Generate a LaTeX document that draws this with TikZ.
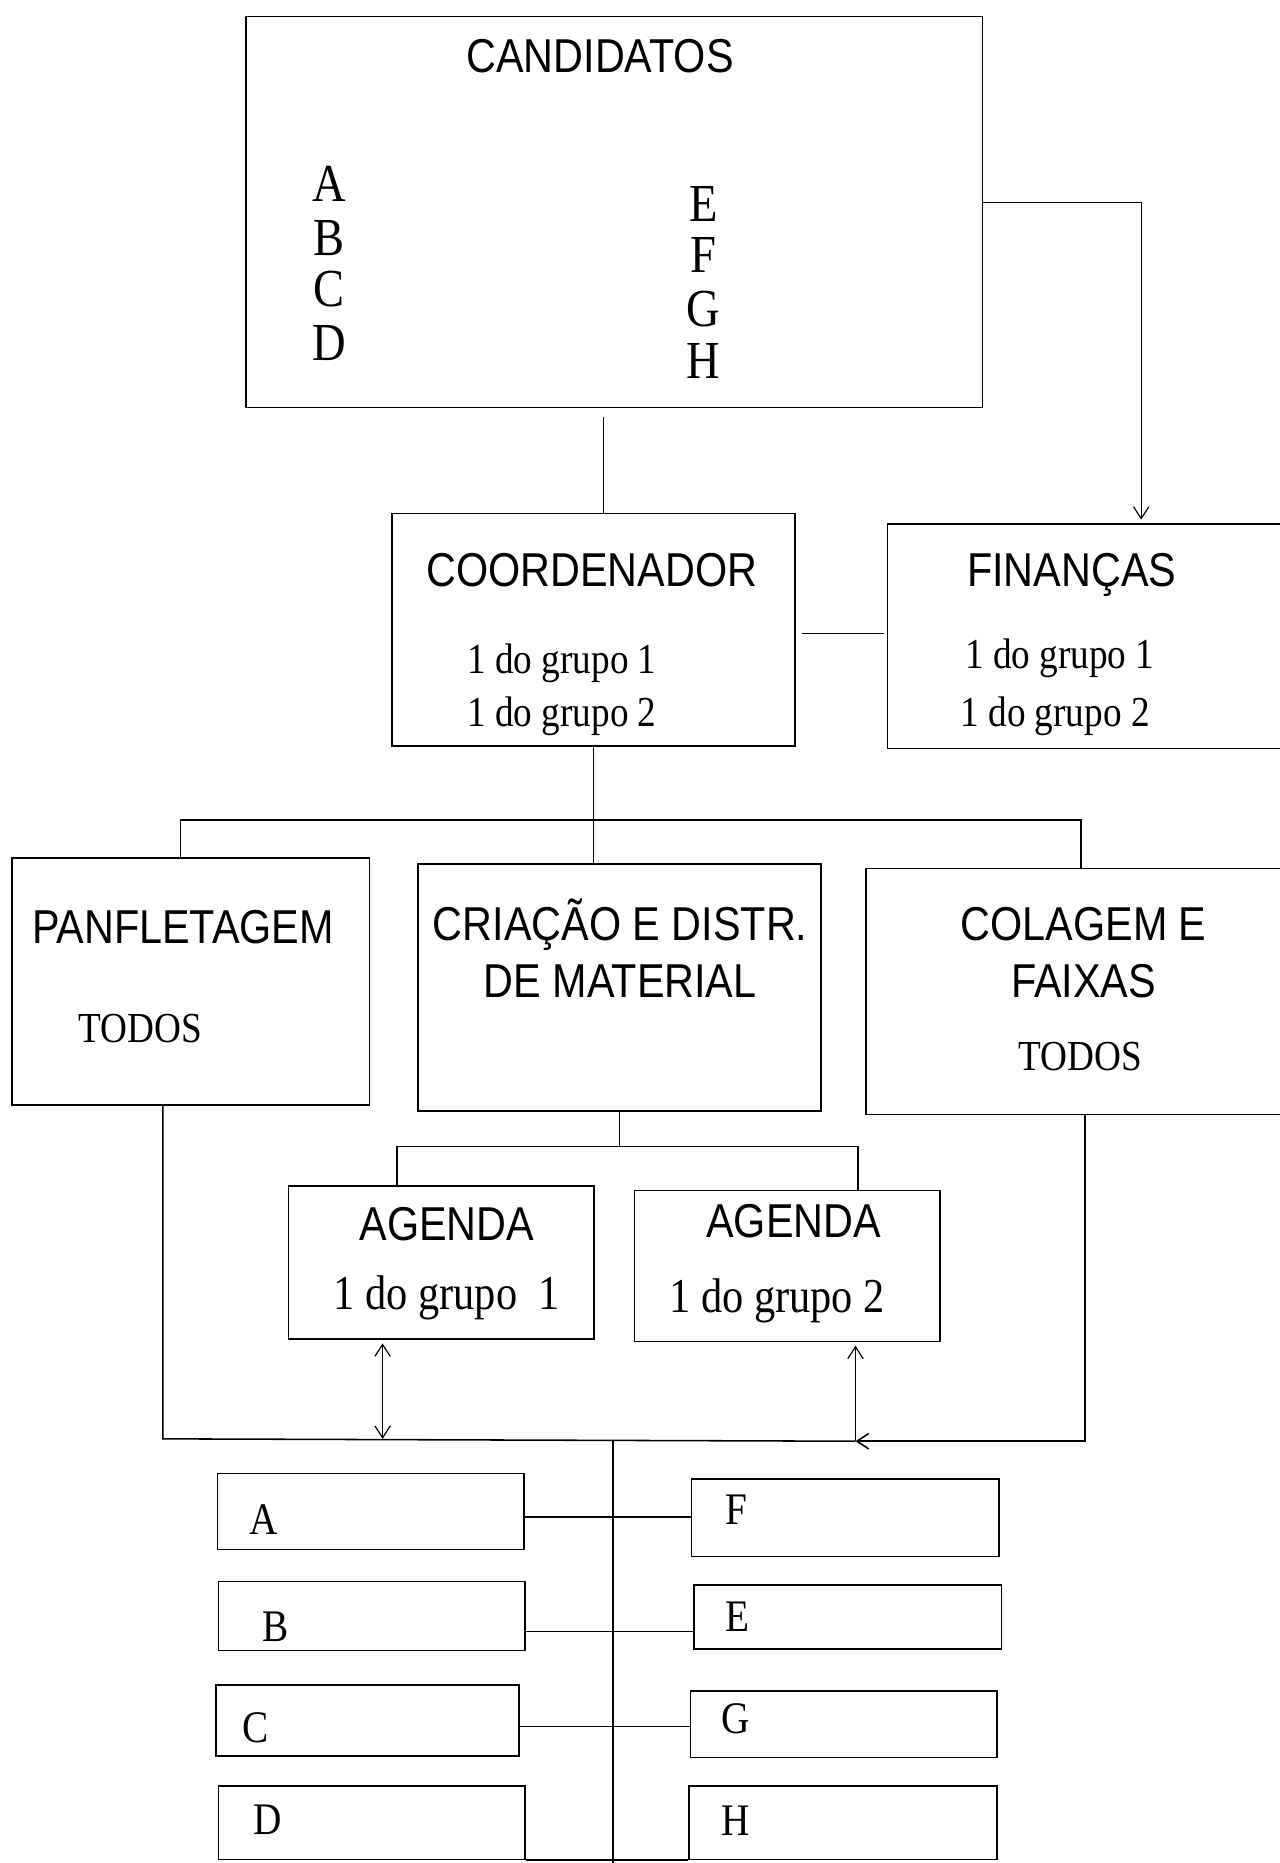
\documentclass[tikz,border=0pt]{standalone}
\usepackage{fontspec}
\setmainfont{Liberation Serif}
\newfontfamily\headfont{Liberation Sans}[FakeStretch=0.87]
\newfontfamily\namefont{Liberation Serif}[FakeStretch=0.87]
\usepackage{tikz}
\usetikzlibrary{positioning,fit,arrows.meta}
\tikzset
{
	unitbox/.style  = {rectangle, draw=black, line width=1.3pt, inner sep=0pt},
	headtext/.style = {font=\headfont\fontsize{40}{48}\selectfont, inner sep=0pt, align=center},
	nametext/.style = {font=\namefont\fontsize{36}{42}\selectfont, inner sep=0pt},
	bigname/.style  = {font=\namefont\fontsize{41}{48}\selectfont, inner sep=0pt},
	lettertext/.style = {font=\namefont\fontsize{45}{50}\selectfont, inner sep=0pt},
	slottext/.style = {font=\namefont\fontsize{38}{44}\selectfont, inner sep=0pt},
	wire/.style     = {draw=black, line width=1pt},
	tip/.style      = {-{Straight Barb[length=10pt,width=13pt]}}
}

\begin{document}
\begin{tikzpicture}[x=1pt, y=-1pt]
		\useasboundingbox (0,0) rectangle (1077,1568);
		% boxes
		\node[unitbox, fit={(207,14) (827,343)}] (cand) {};
		\node[unitbox, fit={(330,432) (669,628)}] (coord) {};
		\node[unitbox, fit={(747,441) (1090,630)}] (fin) {};
		\node[unitbox, fit={(10,722) (311,930)}] (panf) {};
		\node[unitbox, fit={(352,727) (691,935)}] (cria) {};
		\node[unitbox, fit={(729,731) (1090,938)}] (col) {};
		\node[unitbox, fit={(243,998) (500,1127)}] (ag1) {};
		\node[unitbox, fit={(534,1002) (791,1129)}] (ag2) {};
		% texts
		\node[headtext] (candT) at (505,47) {CANDIDATOS};
		\foreach \c/\y in {A/155,B/200,C/243,D/289}
			\node[lettertext] (cand\c) at (277,\y) {\c};
		\foreach \c/\y in {E/172,F/215,G/260,H/304}
			\node[lettertext] (cand\c) at (592,\y) {\c};
		\node[headtext] (coordT) at (498,480) {COORDENADOR};
		\node[nametext] (coordA) at (473,558) {1 do grupo 1};
		\node[nametext] (coordB) at (473,603) {1 do grupo 2};
		\node[headtext] (finT) at (902,484) {FINANÇAS};
		\node[nametext] (finA) at (892,554) {1 do grupo 1};
		\node[nametext] (finB) at (888,603) {1 do grupo 2};
		\node[headtext] (panfT) at (154,780) {PANFLETAGEM};
		\node[nametext] (panfA) at (118,866) {TODOS};
		\node[headtext] (criaT) at (522,798) {CRIAÇÃO E DISTR.\\DE MATERIAL};
		\node[headtext] (colT) at (912,802) {COLAGEM E\\FAIXAS};
		\node[nametext] (colA) at (909,889) {TODOS};
		\node[headtext] (ag1T) at (376,1030) {AGENDA};
		\node[bigname] (ag1A) at (376,1092) {1 do grupo\ \ 1};
		\node[headtext] (ag2T) at (668,1028) {AGENDA};
		\node[bigname] (ag2A) at (654,1095) {1 do grupo 2};
		% members
		\foreach \n/\xa/\ya/\xb/\yb/\lx/\ly in {A/183/1240/441/1304/222/1279, B/184/1331/442/1389/232/1369,
			C/182/1418/437/1478/215/1454, D/184/1503/442/1565/225/1532, F/582/1245/841/1310/620/1271,
			E/584/1334/843/1388/621/1361, G/581/1423/839/1479/619/1447, H/580/1503/839/1565/619/1532}
		{
			\node[unitbox, fit={(\xa,\ya) (\xb,\yb)}] (box\n) {};
			\node[slottext] (txt\n) at (\lx,\ly) {\n};
		}
		% junctions
		\coordinate (busL) at (152,690);
		\coordinate (busR) at (910,690);
		\coordinate (agL) at (334,965);
		\coordinate (agR) at (722,965);
		\coordinate (lowL) at (137,1211);
		\coordinate (lowR) at (720,1213);
		\coordinate (colB) at (913,1213);
		\coordinate (trunk) at (516,1212);
		% connectors
		\draw[wire] ([xshift=-9pt, yshift=-7pt]cand.south) -- ([xshift=-9pt]cand.south |- coord.north);
		\draw[wire, tip] ([yshift=8pt]cand.east) -| ([xshift=42pt, yshift=3pt]fin.north);
		\draw[wire, shorten <=5pt, shorten >=2pt] ([yshift=-3pt]coord.east) -- ([yshift=-3pt]coord.east -| fin.west);
		\draw[wire] (coord.south) -- (coord.south |- cria.north);
		\draw[wire, line width=1.5pt] (busL |- panf.north) -- (busL) -- (busR) -- (busR |- col.north);
		\draw[wire] (cria.south) -- (cria.south |- agL);
		\draw[wire, line width=1.3pt] (agL |- ag1.north) -- (agL) -- (agR) -- (agR |- ag2.north);
		\draw[wire, line width=1.3pt] (lowL |- panf.south) -- (lowL) -- (lowR);
		\draw[wire, {Straight Barb[length=10pt,width=13pt]}-{Straight Barb[length=10pt,width=13pt]}]
			([xshift=-49.5pt, yshift=-3pt]ag1.south) -- ([xshift=-49.5pt]ag1.south |- lowL);
		\draw[wire, tip] (lowR) -- ([yshift=-3pt]lowR |- ag2.south);
		\draw[wire, line width=1.3pt, tip] (colB |- col.south) -- (colB) -- (lowR);
		\draw[wire] (trunk) -- ([yshift=-10pt]trunk |- boxD.south);
		\foreach \l/\r/\s in {boxA/boxF/-5pt, boxB/boxE/-13pt, boxC/boxG/-5pt}
			\draw[wire, line width=1.3pt] ([yshift=\s]\l.east) -- ([yshift=\s]\l.east -| \r.west);
		\draw[wire, line width=1.3pt] (boxD.south east) -- (boxH.south west);
\end{tikzpicture}
\end{document}
